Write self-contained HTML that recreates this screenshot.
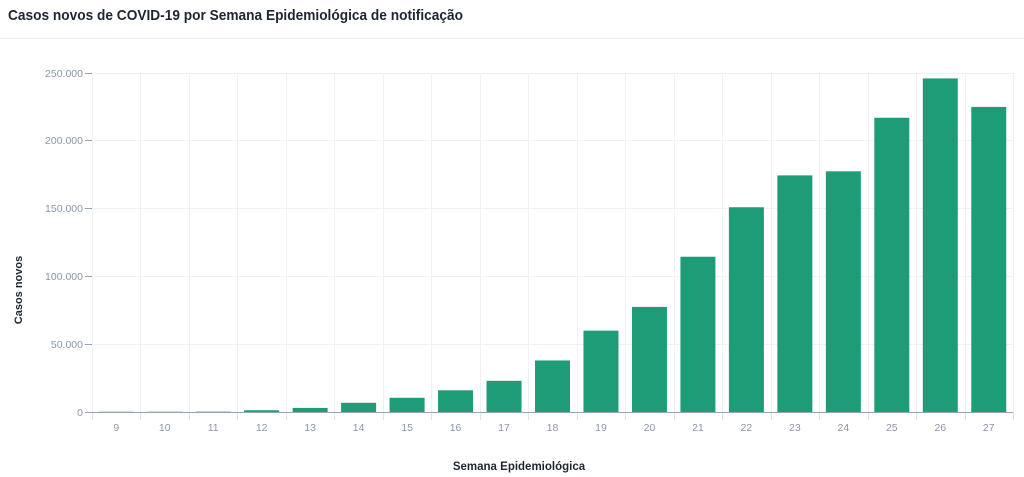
<!DOCTYPE html>
<html><head><meta charset="utf-8"><style>
html,body{margin:0;padding:0;background:#fff;width:1024px;height:477px;overflow:hidden}
svg{display:block;font-family:"Liberation Sans",sans-serif}
</style></head><body>
<svg width="1024" height="477" xmlns="http://www.w3.org/2000/svg">
<text x="8" y="20" font-size="15" font-weight="bold" fill="#1f2633" textLength="455" lengthAdjust="spacingAndGlyphs">Casos novos de COVID-19 por Semana Epidemiológica de notificação</text>
<line x1="0" y1="38.5" x2="1024" y2="38.5" stroke="#eef0f3"/>
<g stroke="#eef1f5">
<line x1="92" x2="1013" y1="344.5" y2="344.5"/><line x1="92" x2="1013" y1="276.5" y2="276.5"/><line x1="92" x2="1013" y1="208.5" y2="208.5"/><line x1="92" x2="1013" y1="140.5" y2="140.5"/><line x1="92" x2="1013" y1="73.5" y2="73.5"/>
<line x1="92.5" x2="92.5" y1="73" y2="412"/><line x1="140.5" x2="140.5" y1="73" y2="412"/><line x1="189.5" x2="189.5" y1="73" y2="412"/><line x1="237.5" x2="237.5" y1="73" y2="412"/><line x1="286.5" x2="286.5" y1="73" y2="412"/><line x1="334.5" x2="334.5" y1="73" y2="412"/><line x1="383.5" x2="383.5" y1="73" y2="412"/><line x1="431.5" x2="431.5" y1="73" y2="412"/><line x1="480.5" x2="480.5" y1="73" y2="412"/><line x1="528.5" x2="528.5" y1="73" y2="412"/><line x1="577.5" x2="577.5" y1="73" y2="412"/><line x1="625.5" x2="625.5" y1="73" y2="412"/><line x1="674.5" x2="674.5" y1="73" y2="412"/><line x1="722.5" x2="722.5" y1="73" y2="412"/><line x1="771.5" x2="771.5" y1="73" y2="412"/><line x1="819.5" x2="819.5" y1="73" y2="412"/><line x1="868.5" x2="868.5" y1="73" y2="412"/><line x1="916.5" x2="916.5" y1="73" y2="412"/><line x1="965.5" x2="965.5" y1="73" y2="412"/><line x1="1013.5" x2="1013.5" y1="73" y2="412"/>
</g>
<g stroke="#dde3ea">
<line x1="92.5" x2="92.5" y1="412" y2="420"/><line x1="140.5" x2="140.5" y1="412" y2="420"/><line x1="189.5" x2="189.5" y1="412" y2="420"/><line x1="237.5" x2="237.5" y1="412" y2="420"/><line x1="286.5" x2="286.5" y1="412" y2="420"/><line x1="334.5" x2="334.5" y1="412" y2="420"/><line x1="383.5" x2="383.5" y1="412" y2="420"/><line x1="431.5" x2="431.5" y1="412" y2="420"/><line x1="480.5" x2="480.5" y1="412" y2="420"/><line x1="528.5" x2="528.5" y1="412" y2="420"/><line x1="577.5" x2="577.5" y1="412" y2="420"/><line x1="625.5" x2="625.5" y1="412" y2="420"/><line x1="674.5" x2="674.5" y1="412" y2="420"/><line x1="722.5" x2="722.5" y1="412" y2="420"/><line x1="771.5" x2="771.5" y1="412" y2="420"/><line x1="819.5" x2="819.5" y1="412" y2="420"/><line x1="868.5" x2="868.5" y1="412" y2="420"/><line x1="916.5" x2="916.5" y1="412" y2="420"/><line x1="965.5" x2="965.5" y1="412" y2="420"/><line x1="1013.5" x2="1013.5" y1="412" y2="420"/>
</g>
<g stroke="#9aa4b4">
<line x1="85" x2="92" y1="412.5" y2="412.5"/><line x1="85" x2="92" y1="344.5" y2="344.5"/><line x1="85" x2="92" y1="276.5" y2="276.5"/><line x1="85" x2="92" y1="208.5" y2="208.5"/><line x1="85" x2="92" y1="140.5" y2="140.5"/><line x1="85" x2="92" y1="73.5" y2="73.5"/>
</g>
<g font-size="10.5" fill="#8a96aa" text-anchor="end">
<text x="83" y="416">0</text><text x="83" y="348">50.000</text><text x="83" y="280">100.000</text><text x="83" y="212">150.000</text><text x="83" y="144">200.000</text><text x="83" y="77">250.000</text>
</g>
<g fill="#1e9c78">
<rect x="98.74" y="411.73" width="35" height="0.27"/>
<rect x="147.21" y="411.73" width="35" height="0.27"/>
<rect x="195.68" y="411.66" width="35" height="0.34"/>
<rect x="244.16" y="410.24" width="35" height="1.76"/>
<rect x="292.63" y="407.93" width="35" height="4.07"/>
<rect x="341.11" y="402.78" width="35" height="9.22"/>
<rect x="389.58" y="397.76" width="35" height="14.24"/>
<rect x="438.05" y="390.3" width="35" height="21.7"/>
<rect x="486.53" y="380.81" width="35" height="31.19"/>
<rect x="535" y="360.47" width="35" height="51.53"/>
<rect x="583.47" y="330.64" width="35" height="81.36"/>
<rect x="631.95" y="306.91" width="35" height="105.09"/>
<rect x="680.42" y="256.74" width="35" height="155.26"/>
<rect x="728.89" y="207.24" width="35" height="204.76"/>
<rect x="777.37" y="175.38" width="35" height="236.62"/>
<rect x="825.84" y="171.31" width="35" height="240.69"/>
<rect x="874.32" y="117.75" width="35" height="294.25"/>
<rect x="922.79" y="78.42" width="35" height="333.58"/>
<rect x="971.26" y="106.9" width="35" height="305.1"/>
</g>
<line x1="92" x2="1013" y1="412.5" y2="412.5" stroke="#9aa4b4"/>
<g font-size="10.5" fill="#8a96aa" text-anchor="middle">
<text x="116.24" y="431">9</text><text x="164.71" y="431">10</text><text x="213.18" y="431">11</text><text x="261.66" y="431">12</text><text x="310.13" y="431">13</text><text x="358.61" y="431">14</text><text x="407.08" y="431">15</text><text x="455.55" y="431">16</text><text x="504.03" y="431">17</text><text x="552.5" y="431">18</text><text x="600.97" y="431">19</text><text x="649.45" y="431">20</text><text x="697.92" y="431">21</text><text x="746.39" y="431">22</text><text x="794.87" y="431">23</text><text x="843.34" y="431">24</text><text x="891.82" y="431">25</text><text x="940.29" y="431">26</text><text x="988.76" y="431">27</text>
</g>
<text x="0" y="0" font-size="11" font-weight="bold" fill="#1f2633" transform="translate(22 290) rotate(-90)" text-anchor="middle">Casos novos</text>
<text x="519" y="470" font-size="11.5" font-weight="bold" fill="#1f2633" text-anchor="middle">Semana Epidemiológica</text>
</svg>
</body></html>
